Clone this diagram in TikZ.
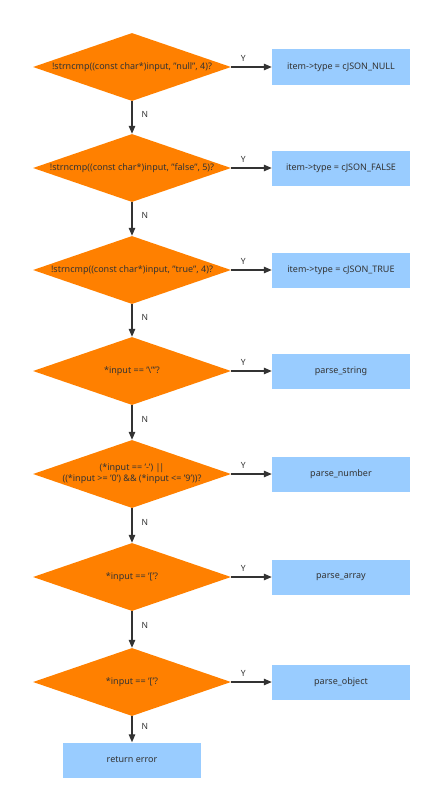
\documentclass[tikz,border=0pt]{standalone}
\usepackage{fontspec}
\setmainfont{Noto Sans}
\usetikzlibrary{shapes.geometric,arrows.meta}
\definecolor{dorange}{HTML}{FF8000}
\definecolor{lblue}{HTML}{99CCFF}
\definecolor{ink}{HTML}{333333}
\tikzset{
  dec/.style={shape=diamond, fill=dorange, draw=none, inner sep=0pt, minimum width=198pt, minimum height=68pt},
  dtext/.style={font=\fontsize{9}{11}\selectfont, text=ink, align=center, inner sep=0pt},
  act/.style={rectangle, fill=lblue, draw=none, minimum width=138pt, minimum height=35pt, font=\fontsize{9}{11}\selectfont, text=ink},
  flow/.style={draw=ink, line width=1.2pt, -{Triangle[length=8pt,width=6.5pt]}},
  lab/.style={font=\fontsize{8.5}{10}\selectfont, text=ink, inner sep=1pt}
}
\begin{document}
\begin{tikzpicture}[x=1pt,y=-1pt]
\useasboundingbox (0,0) rectangle (432,800);
\node[dec, label={[dtext]center:{!strncmp((const char*)input, "null", 4)?}}] (d1) at (132,67) {};
\node[dec, label={[dtext]center:{!strncmp((const char*)input, "false", 5)?}}] (d2) at (132,168) {};
\node[dec, label={[dtext]center:{!strncmp((const char*)input, "true", 4)?}}] (d3) at (132,270) {};
\node[dec, label={[dtext]center:{*input == '\textbackslash"'?}}] (d4) at (132,371) {};
\node[dec, label={[dtext]center:{(*input == '-') \textbar\kern-1.2pt\textbar\\((*input >= '0') \&\& (*input <= '9'))?}}] (d5) at (132,474) {};
\node[dec, label={[dtext]center:{*input == '['?}}] (d6) at (132,577) {};
\node[dec, label={[dtext]center:{*input == '['?}}] (d7) at (132,682) {};
\node[act] (r1) at (341,67) {item->type = cJSON\_NULL};
\node[act] (r2) at (341,168) {item->type = cJSON\_FALSE};
\node[act] (r3) at (341,270) {item->type = cJSON\_TRUE};
\node[act] (r4) at (341,371) {parse\_string};
\node[act] (r5) at (341,474) {parse\_number};
\node[act] (r6) at (341,577) {parse\_array};
\node[act] (r7) at (341,682) {parse\_object};
\node[act] (re) at (132,760) {return error};
\foreach \i in {1,...,7}{
  \draw[flow] (d\i.east) -- node[lab, pos=0.3, above=4pt] {Y} (r\i.west);
}
\foreach \a/\b in {d1/d2,d2/d3,d3/d4,d4/d5,d5/d6,d6/d7,d7/re}{
  \draw[flow] (\a.south) -- node[lab, pos=0.4, right=8pt] {N} (\b.north);
}
\end{tikzpicture}
\end{document}
